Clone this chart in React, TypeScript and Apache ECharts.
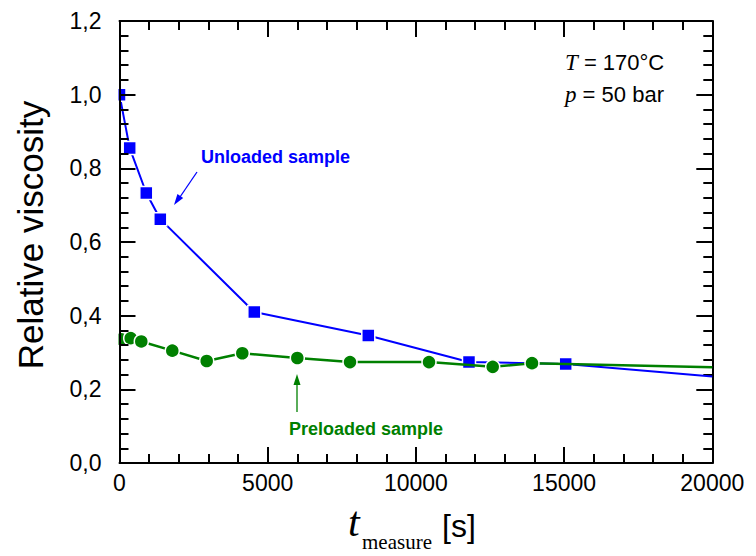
import React, { useEffect, useRef } from "react";
import * as echarts from "echarts";

const unloadedT = [0, 344, 904, 1377, 4548, 8394, 11791, 15054, 20000];
const unloadedV = [1.0, 0.855, 0.733, 0.662, 0.41, 0.346, 0.274, 0.269, 0.235];
const preloadedT = [60, 378, 735, 1781, 2942, 4143, 5999, 7777, 10442, 12591, 13917, 20000];
const preloadedV = [0.336, 0.339, 0.33, 0.305, 0.277, 0.298, 0.285, 0.274, 0.274, 0.261, 0.271, 0.26];
const seriesNames = ["Unloaded sample", "Preloaded sample"];
const xRange = [0, 20000];
const yRange = [0, 1.2];

function arrowHead(tipX: number, tipY: number, fromX: number, fromY: number, len: number, half: number) {
  const dx = tipX - fromX;
  const dy = tipY - fromY;
  const d = Math.sqrt(dx * dx + dy * dy);
  const ux = dx / d;
  const uy = dy / d;
  const bx = tipX - ux * len;
  const by = tipY - uy * len;
  return [
    [tipX, tipY],
    [bx - uy * half, by + ux * half],
    [bx + uy * half, by - ux * half],
  ];
}

export default function App() {
  const ref = useRef<HTMLDivElement>(null);
  useEffect(() => {
    if (!ref.current) return;
    const chart = echarts.init(ref.current, null, { renderer: "svg" });
    const blue = "#0000ff";
    const green = "#008000";
    const lastIdx = (arr: number[]) => arr.length - 1;
    const mk = (ts: number[], vs: number[]) =>
      ts.map((t, i) =>
        i === lastIdx(ts) ? { value: [t, vs[i]], symbol: "none" } : { value: [t, vs[i]] }
      );
    const axisLine = { show: true, onZero: false, lineStyle: { color: "#000", width: 2 } };
    const tick = { show: true, inside: true, length: 16, lineStyle: { color: "#000", width: 2 } };
    const minor = { show: true, splitNumber: 5, length: 9, lineStyle: { color: "#000", width: 2 } };
    const xCommon = {
      type: "value",
      min: xRange[0],
      max: xRange[1],
      interval: 5000,
      axisLine,
      splitLine: { show: false },
      axisTick: tick,
      minorTick: minor,
      minorSplitLine: { show: false },
    };
    const yCommon = {
      type: "value",
      min: yRange[0],
      max: yRange[1],
      interval: 0.2,
      axisLine,
      splitLine: { show: false },
      axisTick: tick,
      minorTick: minor,
      minorSplitLine: { show: false },
    };
    const labelFont = "'Liberation Sans', Arial, sans-serif";
    const blueArrow = arrowHead(174, 205, 197, 172, 11, 3.5);
    const greenArrow = arrowHead(297, 374, 297, 412, 11, 3.5);
    chart.setOption({
      animation: false,
      backgroundColor: "#ffffff",
      grid: { left: 119.5, right: 43.7, top: 21, bottom: 93, containLabel: false },
      xAxis: [
        {
          ...xCommon,
          position: "bottom",
          axisLabel: {
            show: true,
            color: "#000",
            fontSize: 23,
            fontFamily: labelFont,
            margin: 8,
            formatter: (v: number) => String(v),
          },
        },
        { ...xCommon, position: "top", axisLabel: { show: false } },
      ],
      yAxis: [
        {
          ...yCommon,
          position: "left",
          z: 20,
          axisLabel: {
            show: true,
            color: "#000",
            fontSize: 23,
            fontFamily: labelFont,
            margin: 18,
            formatter: (v: number) => v.toFixed(1).replace(".", ","),
          },
        },
        { ...yCommon, position: "right", axisLabel: { show: false } },
      ],
      series: [
        {
          name: seriesNames[0],
          type: "line",
          data: mk(unloadedT, unloadedV),
          symbol: "rect",
          symbolSize: 13,
          lineStyle: { color: blue, width: 2 },
          itemStyle: { color: blue, borderColor: "#fff", borderWidth: 1.5 },
          z: 3,
        },
        {
          name: seriesNames[1],
          type: "line",
          data: mk(preloadedT, preloadedV),
          symbol: "circle",
          symbolSize: 14,
          lineStyle: { color: green, width: 2.5 },
          itemStyle: { color: green, borderColor: "#fff", borderWidth: 1.5 },
          z: 4,
        },
      ],
      graphic: [
        {
          type: "rect",
          z: 10,
          shape: { x: 104, y: 84, width: 14.5, height: 22 },
          style: { fill: "#fff" },
        },
        {
          type: "rect",
          z: 10,
          shape: { x: 104, y: 328, width: 14.5, height: 22 },
          style: { fill: "#fff" },
        },
        {
          type: "text",
          x: 30,
          y: 235,
          rotation: Math.PI / 2,
          style: {
            text: "Relative viscosity",
            font: "35px 'Liberation Sans', Arial, sans-serif",
            fill: "#000",
            textAlign: "center",
            textVerticalAlign: "middle",
          },
        },
        {
          type: "text",
          x: 348,
          y: 543,
          style: {
            text: "t",
            font: "italic 42px 'Liberation Serif', 'Times New Roman', serif",
            fill: "#000",
            textAlign: "left",
            textVerticalAlign: "bottom",
          },
        },
        {
          type: "text",
          x: 362,
          y: 552,
          style: {
            text: "measure",
            font: "21px 'Liberation Serif', 'Times New Roman', serif",
            fill: "#000",
            textAlign: "left",
            textVerticalAlign: "bottom",
          },
        },
        {
          type: "text",
          x: 442,
          y: 542,
          style: {
            text: "[s]",
            font: "32px 'Liberation Sans', Arial, sans-serif",
            fill: "#000",
            textAlign: "left",
            textVerticalAlign: "bottom",
          },
        },
        {
          type: "text",
          x: 565,
          y: 62,
          style: {
            text: "{i|T} = 170°C",
            textVerticalAlign: "middle",
            rich: {
              i: { font: "italic 23px 'Liberation Serif', 'Times New Roman', serif", fill: "#000" },
            },
            font: "22px 'Liberation Sans', Arial, sans-serif",
            fill: "#000",
          },
        },
        {
          type: "text",
          x: 565,
          y: 94,
          style: {
            text: "{i|p} = 50 bar",
            textVerticalAlign: "middle",
            rich: {
              i: { font: "italic 23px 'Liberation Serif', 'Times New Roman', serif", fill: "#000" },
            },
            font: "22px 'Liberation Sans', Arial, sans-serif",
            fill: "#000",
          },
        },
        {
          type: "text",
          x: 201,
          y: 157,
          style: {
            text: seriesNames[0],
            font: "bold 18px 'Liberation Sans', Arial, sans-serif",
            fill: blue,
            textVerticalAlign: "middle",
          },
        },
        {
          type: "line",
          shape: { x1: 197, y1: 172, x2: 180, y2: 197 },
          style: { stroke: blue, lineWidth: 1.3 },
        },
        {
          type: "polygon",
          shape: { points: blueArrow },
          style: { fill: blue },
        },
        {
          type: "text",
          x: 289,
          y: 429,
          style: {
            text: seriesNames[1],
            font: "bold 18px 'Liberation Sans', Arial, sans-serif",
            fill: green,
            textVerticalAlign: "middle",
          },
        },
        {
          type: "line",
          shape: { x1: 297, y1: 412, x2: 297, y2: 384 },
          style: { stroke: green, lineWidth: 1.3 },
        },
        {
          type: "polygon",
          shape: { points: greenArrow },
          style: { fill: green },
        },
      ],
    });
    return () => chart.dispose();
  }, []);
  return <div ref={ref} style={{ width: 756, height: 556, position: "absolute", left: 0, top: 0 }} />;
}
